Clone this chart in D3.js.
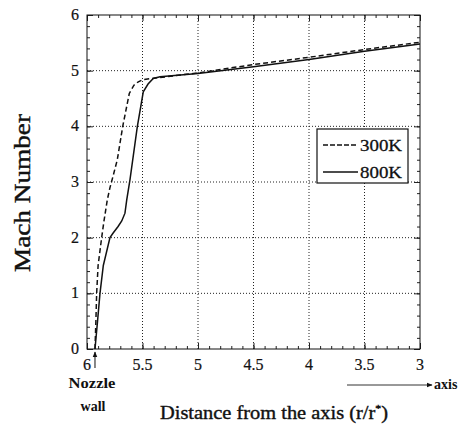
<!DOCTYPE html>
<html>
<head>
<meta charset="utf-8">
<script src="https://cdn.jsdelivr.net/npm/d3@7"></script>
<style>
  body { margin: 0; background: #fff; }
  svg { display: block; }
  text { font-family: "Liberation Serif", "DejaVu Serif", serif; fill: #111; }
</style>
</head>
<body>
<svg id="chart" width="476" height="427"></svg>
<script>
// ---- data ----
const xTickValues = [6, 5.5, 5, 4.5, 4, 3.5, 3];
const xTickLabels = ["6", "5.5", "5", "4.5", "4", "3.5", "3"];
const yTickValues = [0, 1, 2, 3, 4, 5, 6];
const yTickLabels = ["0", "1", "2", "3", "4", "5", "6"];

const seriesNames = ["300K", "800K"];

const r300 = [5.928, 5.92, 5.913, 5.90, 5.868, 5.847, 5.817, 5.793, 5.766, 5.727, 5.678, 5.619, 5.577, 5.538, 5.493, 5.414, 5.0, 4.5, 4.0, 3.5, 3.0];
const m300 = [0, 0.5, 1.0, 1.5, 2.0, 2.3, 2.68, 2.9, 3.1, 3.4, 4.0, 4.59, 4.74, 4.80, 4.84, 4.86, 4.96, 5.11, 5.24, 5.38, 5.51];

const r800 = [5.928, 5.905, 5.883, 5.853, 5.793, 5.766, 5.72, 5.687, 5.658, 5.642, 5.613, 5.547, 5.493, 5.45, 5.403, 5.342, 5.0, 4.5, 4.0, 3.5, 3.0];
const m800 = [0, 0.5, 1.0, 1.5, 2.0, 2.08, 2.2, 2.3, 2.44, 2.68, 3.04, 3.99, 4.62, 4.76, 4.86, 4.89, 4.95, 5.07, 5.20, 5.35, 5.48];

// ---- layout ----
const svg = d3.select("#chart");
const L = 87, R = 420, T = 15, B = 349;
const x = d3.scaleLinear().domain([6, 3]).range([L, R]);
const y = d3.scaleLinear().domain([0, 6]).range([B, T]);

// gridlines
const grid = svg.append("g").attr("stroke", "#222").attr("stroke-width", 1).attr("stroke-dasharray", "1,2");
xTickValues.filter(v => v !== 6 && v !== 3).forEach(v => {
  grid.append("line").attr("x1", x(v)).attr("x2", x(v)).attr("y1", T).attr("y2", B);
});
yTickValues.filter(v => v !== 0 && v !== 6).forEach(v => {
  grid.append("line").attr("x1", L).attr("x2", R).attr("y1", y(v)).attr("y2", y(v));
});

// axes with inward ticks
const xMinor = d3.range(30, 61).map(d => d / 10);
const yMinor = d3.range(0, 31).map(d => d / 5);

const axB = d3.axisBottom(x).tickValues(xMinor).tickSize(-3).tickFormat("");
const axT = d3.axisTop(x).tickValues(xMinor).tickSize(-3).tickFormat("");
const axL = d3.axisLeft(y).tickValues(yMinor).tickSize(-3).tickFormat("");
const axR = d3.axisRight(y).tickValues(yMinor).tickSize(-3).tickFormat("");
const axBM = d3.axisBottom(x).tickValues(xTickValues).tickSize(-6).tickFormat("");
const axTM = d3.axisTop(x).tickValues(xTickValues).tickSize(-6).tickFormat("");
const axLM = d3.axisLeft(y).tickValues(yTickValues).tickSize(-6).tickFormat("");
const axRM = d3.axisRight(y).tickValues(yTickValues).tickSize(-6).tickFormat("");

[[axB, `translate(0,${B})`], [axT, `translate(0,${T})`], [axL, `translate(${L},0)`], [axR, `translate(${R},0)`],
 [axBM, `translate(0,${B})`], [axTM, `translate(0,${T})`], [axLM, `translate(${L},0)`], [axRM, `translate(${R},0)`]]
.forEach(([ax, tr]) => {
  const g = svg.append("g").attr("transform", tr).call(ax);
  g.select(".domain").remove();
  g.selectAll("line").attr("stroke", "#222");
});

// frame
svg.append("rect").attr("x", L).attr("y", T).attr("width", R - L).attr("height", B - T)
  .attr("fill", "none").attr("stroke", "#111").attr("stroke-width", 1);

// tick labels
svg.append("g").selectAll("text").data(xTickValues).join("text")
  .attr("x", d => x(d)).attr("y", 370).attr("text-anchor", "middle")
  .attr("font-size", 16).attr("stroke", "#111").attr("stroke-width", 0.2)
  .text((d, i) => xTickLabels[i]);
svg.append("g").selectAll("text").data(yTickValues).join("text")
  .attr("x", 79).attr("y", d => y(d) + 5).attr("text-anchor", "end")
  .attr("font-size", 16).attr("stroke", "#111").attr("stroke-width", 0.2)
  .text((d, i) => yTickLabels[i]);

// curves
const line = d3.line().x(d => x(d[0])).y(d => y(d[1]));
const d300 = r300.map((r, i) => [r, m300[i]]);
const d800 = r800.map((r, i) => [r, m800[i]]);
svg.append("path").datum(d800).attr("d", line).attr("fill", "none")
  .attr("stroke", "#111").attr("stroke-width", 1.5);
svg.append("path").datum(d300).attr("d", line).attr("fill", "none")
  .attr("stroke", "#111").attr("stroke-width", 1.5).attr("stroke-dasharray", "5,3");

// legend
const lg = svg.append("g");
lg.append("rect").attr("x", 317).attr("y", 129).attr("width", 91).attr("height", 54)
  .attr("fill", "#fff").attr("stroke", "#111").attr("stroke-width", 1.2);
[["5,2", 145], [null, 172]].forEach(([dash, yy], i) => {
  const ln = lg.append("line").attr("x1", 323).attr("x2", 358).attr("y1", yy).attr("y2", yy)
    .attr("stroke", "#111").attr("stroke-width", 1.3);
  if (dash) ln.attr("stroke-dasharray", dash);
  lg.append("text").attr("x", 360).attr("y", yy + 6).attr("font-size", 17)
    .attr("stroke", "#111").attr("stroke-width", 0.3)
    .attr("textLength", 42).attr("lengthAdjust", "spacingAndGlyphs").text(seriesNames[i]);
});

// axis titles
svg.append("text").attr("x", 160).attr("y", 419).attr("font-size", 19)
  .attr("stroke", "#111").attr("stroke-width", 0.4)
  .attr("textLength", 228).attr("lengthAdjust", "spacingAndGlyphs")
  .html('Distance from the axis (r/r<tspan dy="-7" font-size="11">*</tspan><tspan dy="7">)</tspan>');
svg.append("text").attr("transform", "translate(30,272) rotate(-90)")
  .attr("font-size", 23).attr("stroke", "#111").attr("stroke-width", 0.4)
  .attr("textLength", 158).attr("lengthAdjust", "spacingAndGlyphs")
  .text("Mach Number");

// annotations
const defs = svg.append("defs");
defs.append("marker").attr("id", "ah").attr("viewBox", "0 0 10 10").attr("refX", 9).attr("refY", 5)
  .attr("markerWidth", 6).attr("markerHeight", 6).attr("orient", "auto")
  .append("path").attr("d", "M0,1 L10,5 L0,9 Z").attr("fill", "#111");
svg.append("line").attr("x1", x(r300[0])).attr("x2", x(r300[0])).attr("y1", 368).attr("y2", 352)
  .attr("stroke", "#111").attr("stroke-width", 1).attr("marker-end", "url(#ah)");
svg.append("text").attr("x", 92).attr("y", 388).attr("text-anchor", "middle").attr("font-size", 15)
  .attr("textLength", 47).attr("lengthAdjust", "spacingAndGlyphs").attr("font-weight", "bold").text("Nozzle");
svg.append("text").attr("x", 93).attr("y", 411).attr("text-anchor", "middle").attr("font-size", 14)
  .attr("font-weight", "bold").text("wall");

svg.append("line").attr("x1", 347).attr("x2", 432).attr("y1", 385).attr("y2", 385)
  .attr("stroke", "#333").attr("stroke-width", 1).attr("marker-end", "url(#ah)");
svg.append("text").attr("x", 434).attr("y", 389).attr("font-size", 14).attr("font-weight", "bold").text("axis");
</script>
</body>
</html>
